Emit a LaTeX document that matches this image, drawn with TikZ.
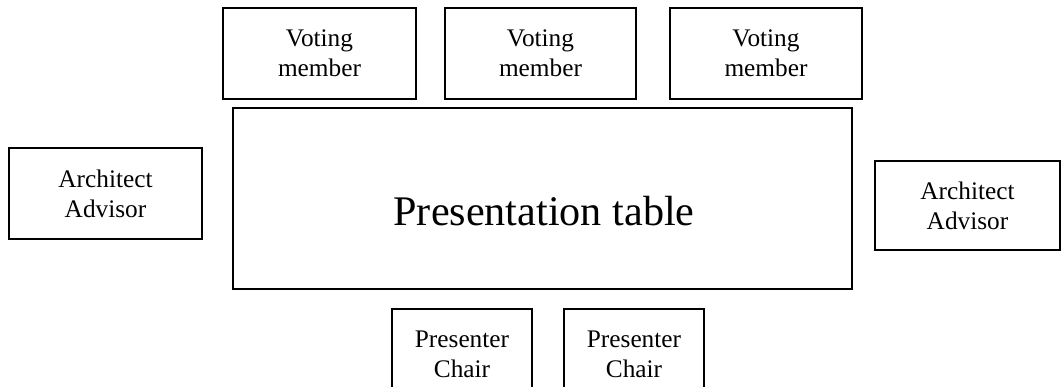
\documentclass[tikz,border=0pt]{standalone}
\usepackage{fontspec}
\setmainfont{Liberation Serif}
\tikzset{
  seat/.style={draw, line width=1.1pt, align=center, inner sep=0pt,
    font=\fontsize{18}{21.3}\selectfont},
  tablebox/.style={draw, line width=1.1pt, inner sep=0pt}
}
\begin{document}
\begin{tikzpicture}
\useasboundingbox (0,0) rectangle (26.55,9.675);

% voting members along the top
\node[seat, minimum width=4.825cm, minimum height=2.275cm] (vote1) at (7.9875,8.3375) {Voting\\member};
\node[seat, minimum width=4.775cm, minimum height=2.275cm] (vote2) at (13.5125,8.3375) {Voting\\member};
\node[seat, minimum width=4.8cm, minimum height=2.275cm] (vote3) at (19.15,8.3375) {Voting\\member};

% the table
\node[tablebox, minimum width=15.475cm, minimum height=4.525cm] (table) at (13.5625,4.7125) {};
\node[font=\fontsize{30}{36}\selectfont] (tablename) at (13.6,4.4) {Presentation table};

% advisors on both sides
\node[seat, minimum width=4.825cm, minimum height=2.275cm] (advleft) at (2.6375,4.8375) {Architect\\Advisor};
\node[seat, minimum width=4.625cm, minimum height=2.225cm] (advright) at (24.1875,4.5375) {Architect\\Advisor};

% presenters below
\node[seat, minimum width=3.5cm, minimum height=2.275cm] (pres1) at (11.55,0.8125) {Presenter\\Chair};
\node[seat, minimum width=3.5cm, minimum height=2.275cm] (pres2) at (15.85,0.8125) {Presenter\\Chair};
\end{tikzpicture}
\end{document}
